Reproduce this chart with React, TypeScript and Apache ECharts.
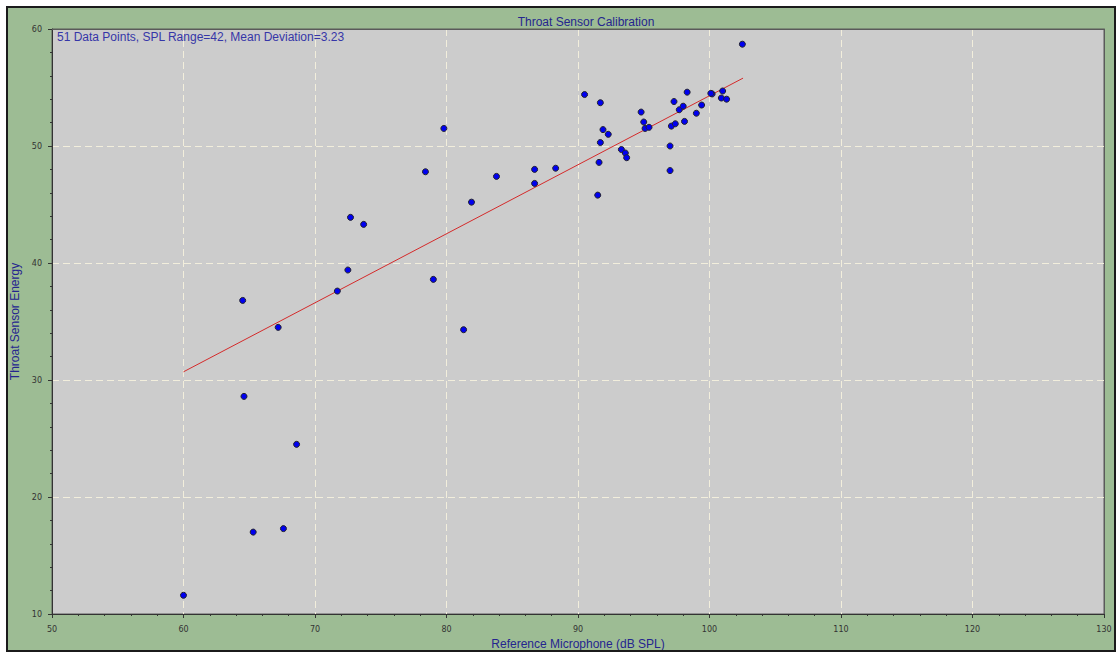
import React, { useEffect, useRef } from "react";
import * as echarts from "echarts";

// Reference microphone level (dB SPL) for each calibration sample
const splValues: number[] = [
  60.0, 64.5, 64.6, 65.3, 67.2, 67.6, 68.6, 71.7, 72.5, 72.7,
  73.7, 78.4, 79.0, 79.8, 81.3, 81.9, 83.8, 86.7, 86.7, 88.3,
  90.5, 91.5, 91.6, 91.7, 91.7, 91.9, 92.3, 93.3, 93.6, 93.7,
  94.8, 95.0, 95.1, 95.4, 97.0, 97.0, 97.1, 97.3, 97.4, 97.7,
  98.0, 98.1, 98.3, 99.0, 99.4, 100.2, 100.1, 100.9, 101.0, 101.3,
  102.5,
];

// Throat sensor energy measured for the same samples
const energyValues: number[] = [
  11.6, 36.8, 28.6, 17.0, 34.5, 17.3, 24.5, 37.6, 39.4, 43.9,
  43.3, 47.8, 38.6, 51.5, 34.3, 45.2, 47.4, 48.0, 46.8, 48.1,
  54.4, 45.8, 48.6, 53.7, 50.3, 51.4, 51.0, 49.7, 49.4, 49.0,
  52.9, 52.05, 51.5, 51.6, 47.9, 50.0, 51.7, 53.8, 51.9, 53.1,
  53.4, 52.1, 54.6, 52.8, 53.5, 54.45, 54.5, 54.1, 54.7, 54.0,
  58.7,
];

// Least-squares fit line endpoints [SPL, energy]
const fitStart: number[] = [60.0, 30.7];
const fitEnd: number[] = [102.55, 55.8];

// Axis ranges and tick steps
const xRange: number[] = [50, 130];
const yRange: number[] = [10, 60];
const xStep = 10;
const yStep = 10;

const chartTitle = "Throat Sensor Calibration";
const statsText = "51 Data Points, SPL Range=42, Mean Deviation=3.23";
const xAxisName = "Reference Microphone (dB SPL)";
const yAxisName = "Throat Sensor Energy";

const FONT = "'Liberation Sans', Arial, sans-serif";
const TEXT_BLUE = "#25258f";

export default function App() {
  const ref = useRef<HTMLDivElement>(null);

  useEffect(() => {
    if (!ref.current) return;
    const chart = echarts.init(ref.current, undefined, { renderer: "svg" });

    const points = splValues.map((x, i) => [x, energyValues[i]]);

    const axisCommon = {
      axisLine: { show: true, lineStyle: { color: "#333333", width: 1 } },
      axisTick: { show: true, inside: false, length: 4, lineStyle: { color: "#333333" } },
      minorTick: { show: true, splitNumber: 5, length: 2, lineStyle: { color: "#333333" } },
      splitLine: {
        show: true,
        lineStyle: { color: "#f2eedc", type: [7, 4] as any, width: 1 },
      },
      minorSplitLine: { show: false },
      axisLabel: { color: "#333333", fontSize: 8, fontFamily: "'DejaVu Sans', sans-serif" },
      nameLocation: "middle" as const,
      nameTextStyle: { color: TEXT_BLUE, fontSize: 12, fontFamily: FONT },
    };

    // Frame-only axes for the solid top and right plot edges
    const frameAxis = {
      type: "value" as const,
      axisLine: { show: true, onZero: false, lineStyle: { color: "#5a5a5a", width: 1 } },
      axisTick: { show: false },
      axisLabel: { show: false },
      splitLine: { show: false },
    };

    chart.setOption({
      animation: false,
      backgroundColor: "#9dbc94",
      title: {
        text: chartTitle,
        left: 573,
        top: 3,
        textAlign: "center",
        textStyle: { color: TEXT_BLUE, fontSize: 12, fontWeight: "normal", fontFamily: FONT },
      },
      graphic: [
        {
          type: "text",
          left: 49,
          top: 23,
          z: 100,
          style: {
            text: statsText,
            fill: "#3636a8",
            font: `12px ${FONT}`,
          },
        },
      ],
      grid: {
        left: 44,
        top: 21,
        right: 10,
        bottom: 36,
        outerBoundsMode: "none",
        containLabel: false,
        show: true,
        backgroundColor: "#cccccc",
        borderColor: "#5a5a5a",
        borderWidth: 1,
      },
      xAxis: [
        {
          ...axisCommon,
          type: "value",
          min: xRange[0],
          max: xRange[1],
          interval: xStep,
          name: xAxisName,
          nameGap: 21,
          axisLabel: { ...axisCommon.axisLabel, margin: 11 },
        },
        { ...frameAxis, position: "top", min: xRange[0], max: xRange[1] },
      ],
      yAxis: [
        {
          ...axisCommon,
          type: "value",
          min: yRange[0],
          max: yRange[1],
          interval: yStep,
          name: yAxisName,
          nameGap: 24,
          axisLabel: { ...axisCommon.axisLabel, margin: 10 },
        },
        { ...frameAxis, position: "right", min: yRange[0], max: yRange[1] },
      ],
      series: [
        {
          type: "line",
          data: [fitStart, fitEnd],
          showSymbol: false,
          symbol: "none",
          lineStyle: { color: "#d42a2a", width: 1 },
          z: 2,
          silent: true,
        },
        {
          type: "scatter",
          data: points,
          symbol: "circle",
          symbolSize: 6,
          itemStyle: { color: "#0000f0", borderColor: "#22222e", borderWidth: 1, opacity: 1 },
          z: 3,
        },
      ],
    });

    return () => chart.dispose();
  }, []);

  return (
    <div
      style={{
        position: "fixed",
        left: 0,
        top: 0,
        width: 1119,
        height: 653,
        background: "#ffffff",
      }}
    >
      <div
        style={{
          position: "absolute",
          left: 6,
          top: 6,
          border: "2px solid #1b1b1b",
          width: 1106,
          height: 642,
        }}
      >
        <div ref={ref} style={{ width: 1106, height: 642 }} />
      </div>
    </div>
  );
}
